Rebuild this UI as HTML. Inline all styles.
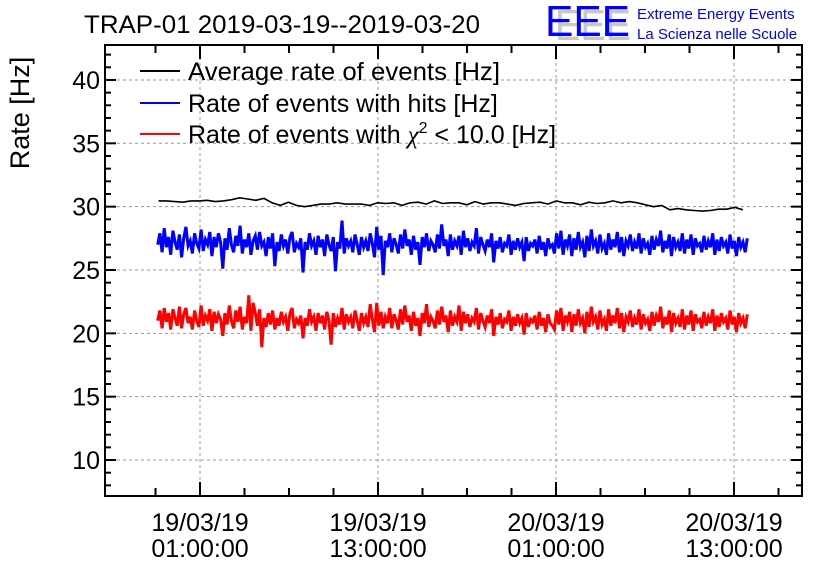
<!DOCTYPE html>
<html><head><meta charset="utf-8"><style>
html,body{margin:0;padding:0;background:#fff;}
svg{display:block;font-family:"Liberation Sans",sans-serif;}
</style></head><body>
<svg id="chart" width="836" height="572" viewBox="0 0 836 572" xmlns="http://www.w3.org/2000/svg">
<text x="84" y="33" font-size="25" fill="#000" textLength="396" lengthAdjust="spacingAndGlyphs">TRAP-01 2019-03-19--2019-03-20</text>
<g>
<text x="555" y="40" font-size="44" fill="#c8c8c8" textLength="76" lengthAdjust="spacingAndGlyphs">EEE</text>
<text x="545" y="36" font-size="44" fill="#0000ff" textLength="85" lengthAdjust="spacingAndGlyphs">EEE</text>
<text x="637" y="19" font-size="15" fill="#0000ff">Extreme Energy Events</text>
<text x="637" y="39" font-size="15" fill="#0000ff">La Scienza nelle Scuole</text>
</g>
<text transform="translate(29,113) rotate(-90)" font-size="27" text-anchor="middle">Rate [Hz]</text>
<g id="grid"></g>
<g id="series"></g>
<rect x="105" y="45" width="697" height="451" fill="none" stroke="#000" stroke-width="2"/>
<g id="axes"></g>
<g font-size="25">
<g><line x1="140" y1="71" x2="180" y2="71" stroke="#000" stroke-width="2"/><text x="188" y="80" textLength="312" lengthAdjust="spacingAndGlyphs">Average rate of events [Hz]</text></g>
<g><line x1="140" y1="103" x2="180" y2="103" stroke="#0000ff" stroke-width="2"/><text x="188" y="112">Rate of events with hits [Hz]</text></g>
<g><line x1="140" y1="134" x2="180" y2="134" stroke="#ff0000" stroke-width="2"/><text x="188" y="143">Rate of events with <tspan font-family="Liberation Serif" font-style="italic">χ</tspan><tspan dy="-10" font-size="16">2</tspan><tspan dy="10"> &lt; 10.0 [Hz]</tspan></text></g>
</g>
</svg>
<script>
const yTicks=[10,15,20,25,30,35,40];
const xTickHours=[1,13,25,37];
const xTickLabels=[["19/03/19","01:00:00"],["19/03/19","13:00:00"],["20/03/19","01:00:00"],["20/03/19","13:00:00"]];
const avgStart=-1.8, avgEnd=37.6;
const avgValues=[30.45,30.45,30.4,30.35,30.45,30.45,30.5,30.4,30.45,30.55,30.7,30.6,30.5,30.65,30.3,30.1,30.35,30.1,30.0,30.1,30.2,30.2,30.3,30.2,30.2,30.2,30.1,30.3,30.25,30.3,30.1,30.3,30.35,30.2,30.45,30.25,30.3,30.3,30.15,30.4,30.2,30.3,30.3,30.2,30.1,30.25,30.3,30.35,30.2,30.45,30.3,30.3,30.15,30.35,30.25,30.3,30.45,30.3,30.4,30.3,30.15,30.0,30.1,29.75,29.85,29.75,29.7,29.65,29.7,29.8,29.8,29.95,29.75];
const dataStart=-1.85, dataEnd=37.9;
const hitsValues=[27.0,27.9,26.4,28.3,26.8,27.6,26.2,28.1,27.2,26.6,27.8,26.0,27.5,28.4,26.9,27.3,26.3,27.9,27.1,26.7,28.2,26.5,27.4,27.0,28.0,26.1,27.6,26.8,27.9,27.2,25.1,27.5,26.6,28.3,27.0,26.4,27.7,26.9,28.5,26.3,27.4,26.8,27.9,26.2,27.3,27.7,26.6,28.0,26.9,27.2,26.1,27.6,26.7,27.9,25.3,27.2,26.5,27.8,26.9,27.4,26.3,27.6,28.0,26.4,27.1,26.8,27.5,24.8,27.2,26.6,27.9,26.9,27.3,26.2,27.7,26.8,27.4,26.1,27.8,27.0,26.5,27.6,24.9,27.2,26.7,28.9,26.3,27.5,26.9,27.3,26.4,27.8,27.0,26.2,27.6,26.8,27.3,26.5,27.9,27.1,26.0,28.4,26.6,27.7,24.6,27.3,26.8,27.9,26.4,27.5,27.0,26.3,27.8,26.7,28.2,26.9,27.4,26.2,27.7,26.6,27.2,25.4,27.6,26.8,27.9,26.5,27.3,27.0,26.4,27.8,26.7,28.6,26.9,27.4,26.1,27.8,26.6,27.3,26.9,27.7,26.2,28.1,26.8,27.5,26.5,27.2,26.9,28.3,26.3,27.6,27.0,26.5,27.4,26.8,27.9,25.6,27.3,26.7,27.6,26.4,27.1,26.9,27.8,26.2,27.3,26.6,27.5,26.8,27.2,25.7,27.6,26.5,27.1,26.9,27.4,26.3,27.7,26.6,27.2,26.1,27.5,26.8,27.0,
26.3,27.9,26.7,28.1,26.2,27.4,26.9,27.8,26.1,27.5,26.6,28.0,26.8,27.2,26.0,27.7,26.5,28.2,26.9,27.3,26.3,27.8,26.7,27.1,26.2,27.9,26.6,27.4,26.8,28.0,26.4,27.6,26.1,27.3,26.9,27.8,26.5,27.2,26.7,27.9,26.3,27.5,26.8,27.1,26.2,27.7,26.6,27.4,26.9,28.1,26.4,27.3,26.7,27.8,26.1,27.6,26.8,27.2,26.5,27.9,26.3,27.4,26.7,27.8,26.2,27.5,26.9,27.1,26.4,27.7,26.6,27.3,26.8,27.9,26.2,27.4,26.5,27.6,26.9,27.2,26.3,27.8,26.7,27.3,26.1,27.6,26.8,27.2,26.4,27.5];
const chi2Values=[21.0,21.8,20.4,22.0,20.9,21.6,20.3,21.9,21.2,20.6,22.1,20.4,21.5,22.0,20.8,21.3,20.3,21.8,21.0,20.5,22.2,20.6,21.4,21.0,21.9,20.2,21.7,20.8,21.5,21.1,19.8,21.6,20.7,22.2,21.0,20.4,21.8,20.9,22.1,20.3,21.3,20.8,23.0,20.2,22.4,21.6,20.6,21.9,18.9,21.2,20.5,21.6,20.7,21.8,20.3,21.2,20.6,21.7,20.9,21.3,20.2,21.6,22.0,20.4,21.1,20.8,21.4,19.6,21.2,20.6,21.9,20.9,21.3,20.2,21.6,20.8,21.4,20.3,21.7,21.0,19.1,21.6,20.5,21.2,20.7,22.0,20.3,21.5,20.9,21.3,20.4,21.8,21.0,20.2,21.6,20.8,21.3,20.5,22.3,21.1,20.1,22.4,20.6,21.7,20.4,21.3,20.8,22.0,20.4,21.5,21.0,20.3,21.9,20.7,22.2,20.9,21.4,20.2,21.7,20.6,21.2,19.8,21.6,20.8,22.3,20.5,21.3,21.0,20.4,21.8,20.7,22.1,20.9,21.4,20.1,21.8,20.6,21.3,20.9,22.2,20.2,21.7,20.8,21.5,20.5,21.2,20.9,22.0,20.3,21.6,21.0,20.5,21.4,20.8,21.9,19.8,21.3,20.7,21.6,20.4,21.1,20.9,21.8,20.2,21.3,20.6,21.5,20.8,21.2,19.9,21.6,20.5,21.1,20.9,21.4,20.3,21.7,20.6,21.2,20.1,21.5,20.8,20.6,
20.3,21.8,20.7,22.0,20.2,21.4,20.9,21.7,20.1,21.5,20.6,21.9,20.8,21.2,20.0,21.7,20.5,22.1,20.9,21.3,20.3,21.8,20.7,21.1,20.2,21.9,20.6,21.4,20.8,22.0,20.4,21.6,20.1,21.3,20.9,21.8,20.5,21.2,20.7,21.9,20.3,21.5,20.8,21.1,20.2,21.7,20.6,21.4,20.9,22.1,20.4,21.3,20.7,21.8,20.1,21.6,20.8,21.2,20.5,21.9,20.3,21.4,20.7,21.8,20.2,21.5,20.9,21.1,20.4,21.7,20.6,21.3,20.8,21.9,20.2,21.4,20.5,21.6,20.9,21.2,20.3,21.8,20.7,21.3,20.1,21.6,20.8,21.2,20.4,21.5];
const X0=105,X1=802,Y0=45,Y1=496;
const yMin=7.16,yMax=42.76;
const hMin=1-(200-105)/14.8333,hMax=1+(802-200)/14.8333;
const xs=h=>X0+(h-hMin)/(hMax-hMin)*(X1-X0);
const ys=v=>Y1-(v-yMin)/(yMax-yMin)*(Y1-Y0);
const NS="http://www.w3.org/2000/svg";
function mk(tag,attrs,parent){const e=document.createElementNS(NS,tag);for(const k in attrs)e.setAttribute(k,attrs[k]);parent.appendChild(e);return e;}
const grid=document.getElementById('grid'),axes=document.getElementById('axes'),series=document.getElementById('series');
yTicks.forEach(v=>{
 const l=mk('line',{x1:X0,x2:X1,y1:ys(v),y2:ys(v),stroke:'#999','stroke-dasharray':'3,3','stroke-width':1},grid);
 
 
 const t=mk('text',{x:X0-5,y:ys(v)+9,'font-size':25,'text-anchor':'end'},axes);t.textContent=v;
 
 
});
xTickHours.forEach((h,i)=>{
 const l=mk('line',{x1:xs(h),x2:xs(h),y1:Y0,y2:Y1,stroke:'#999','stroke-dasharray':'3,3','stroke-width':1},grid);
 
 
 for(let k=0;k<2;k++){const t=mk('text',{x:xs(h),y:k?557:531,'font-size':25,'text-anchor':'middle'},axes);t.textContent=xTickLabels[i][k];
 
 }
});
for(let v=8;v<=42;v++){const L=(v%5==0)?11:6;
 mk('line',{x1:X0,x2:X0+L,y1:ys(v),y2:ys(v),stroke:'#000','stroke-width':2},axes);
 mk('line',{x1:X1-L,x2:X1,y1:ys(v),y2:ys(v),stroke:'#000','stroke-width':2},axes);}
for(let h=-2;h<=40;h+=3){const x=xs(h);if(x<X0+2||x>X1-2)continue;const L=((h-1)%12==0)?14:8;
 mk('line',{x1:x,x2:x,y1:Y1-L,y2:Y1,stroke:'#000','stroke-width':2},axes);
 mk('line',{x1:x,x2:x,y1:Y0,y2:Y0+L,stroke:'#000','stroke-width':2},axes);}
function drawLine(vals,t0,t1,color,w,name){
 const pts=vals.map((v,i)=>xs(t0+(t1-t0)*i/(vals.length-1)).toFixed(1)+','+ys(v).toFixed(1)).join(' ');
 const p=mk('polyline',{points:pts,fill:'none',stroke:color,'stroke-width':w,'stroke-linejoin':'miter'},series);
 
 
}
drawLine(avgValues,avgStart,avgEnd,'#000',1.6,'average-rate-line');
drawLine(hitsValues,dataStart,dataEnd,'#0000ff',3,'hits-rate-line');
drawLine(chi2Values,dataStart,dataEnd,'#ff0000',3,'chi2-rate-line');
</script>
</body></html>
